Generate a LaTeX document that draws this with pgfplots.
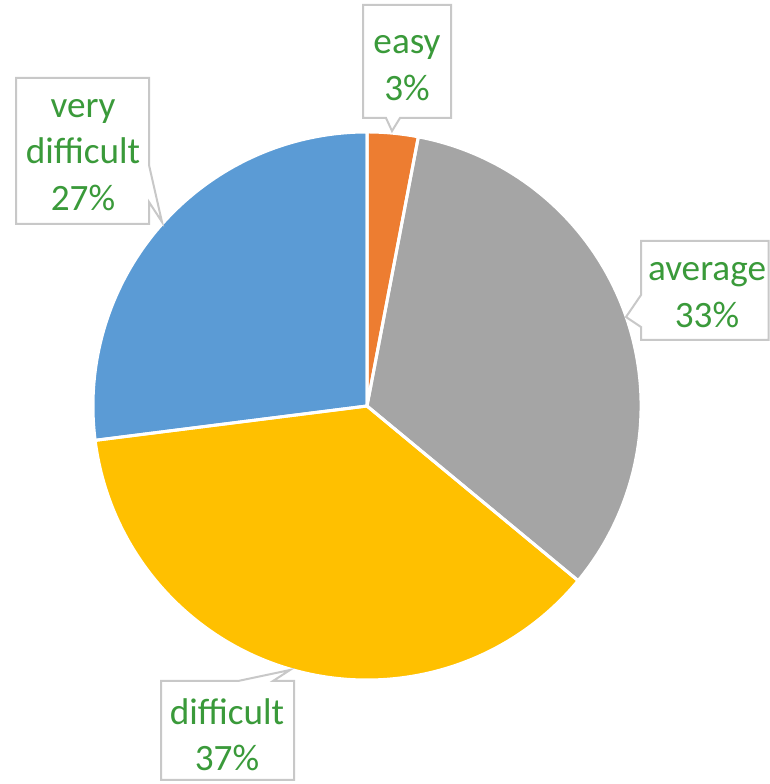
\documentclass[border=0pt]{standalone}
\usepackage{pgfplots}
\usepackage{pgfplotstable}
\pgfplotsset{compat=1.18}
\usepackage{fontspec}
\setmainfont{Carlito}
\definecolor{cEasy}{RGB}{237,125,49}
\definecolor{cAvg}{RGB}{165,165,165}
\definecolor{cDiff}{RGB}{255,192,0}
\definecolor{cVery}{RGB}{91,155,213}
\definecolor{lblgreen}{RGB}{58,154,58}
\definecolor{boxgray}{RGB}{200,200,200}

\pgfplotstableread{
label value
easy 3
average 33
difficult 37
verydifficult 27
}\pietable

\begin{document}
\begin{tikzpicture}
\pgfplotstablegetelem{0}{value}\of\pietable \let\vA\pgfplotsretval
\pgfplotstablegetelem{1}{value}\of\pietable \let\vB\pgfplotsretval
\pgfplotstablegetelem{2}{value}\of\pietable \let\vC\pgfplotsretval
\pgfplotstablegetelem{3}{value}\of\pietable \let\vD\pgfplotsretval
\pgfmathsetmacro\aA{90}
\pgfmathsetmacro\aB{\aA-3.6*\vA}
\pgfmathsetmacro\aC{\aB-3.6*\vB}
\pgfmathsetmacro\aD{\aC-3.6*\vC}
\pgfmathsetmacro\aE{\aD-3.6*\vD}
\def\R{137bp}
\begin{axis}[
  hide axis, scale only axis, clip=false,
  x=0.5bp, y=0.5bp,
  xmin=0, xmax=769, ymin=-784, ymax=0,
]
\path (axis cs:0,-784) rectangle (axis cs:769,0);
% pie wedges
\fill[cEasy] (axis cs:367,-406) -- ++(\aA:\R) arc[start angle=\aA, end angle=\aB, radius=\R] -- cycle;
\fill[cAvg]  (axis cs:367,-406) -- ++(\aB:\R) arc[start angle=\aB, end angle=\aC, radius=\R] -- cycle;
\fill[cDiff] (axis cs:367,-406) -- ++(\aC:\R) arc[start angle=\aC, end angle=\aD, radius=\R] -- cycle;
\fill[cVery] (axis cs:367,-406) -- ++(\aD:\R) arc[start angle=\aD, end angle=\aE, radius=\R] -- cycle;
% white separators
\draw[white, line width=1.5bp, line join=round] (axis cs:367,-406) -- ++(\aA:\R) arc[start angle=\aA, end angle=\aB, radius=\R] -- cycle;
\draw[white, line width=1.5bp, line join=round] (axis cs:367,-406) -- ++(\aB:\R) arc[start angle=\aB, end angle=\aC, radius=\R] -- cycle;
\draw[white, line width=1.5bp, line join=round] (axis cs:367,-406) -- ++(\aC:\R) arc[start angle=\aC, end angle=\aD, radius=\R] -- cycle;
\draw[white, line width=1.5bp, line join=round] (axis cs:367,-406) -- ++(\aD:\R) arc[start angle=\aD, end angle=\aE, radius=\R] -- cycle;
% callout boxes
\filldraw[fill=white, draw=boxgray, line width=1bp]
  (axis cs:363,-5) -- (axis cs:451,-5) -- (axis cs:451,-118) -- (axis cs:400,-118)
  -- (axis cs:392,-131) -- (axis cs:386,-118) -- (axis cs:363,-118) -- cycle;
\filldraw[fill=white, draw=boxgray, line width=1bp]
  (axis cs:16,-78) -- (axis cs:149,-78) -- (axis cs:149,-165) -- (axis cs:162,-222)
  -- (axis cs:149,-202) -- (axis cs:149,-224) -- (axis cs:16,-224) -- cycle;
\filldraw[fill=white, draw=boxgray, line width=1bp]
  (axis cs:641,-241) -- (axis cs:768.5,-241) -- (axis cs:768.5,-340) -- (axis cs:641,-340)
  -- (axis cs:641,-327) -- (axis cs:626,-317) -- (axis cs:641,-295) -- cycle;
\filldraw[fill=white, draw=boxgray, line width=1bp]
  (axis cs:161,-681) -- (axis cs:238,-681) -- (axis cs:290,-670) -- (axis cs:273,-681)
  -- (axis cs:294,-681) -- (axis cs:294,-780) -- (axis cs:161,-780) -- cycle;
% labels
\tikzset{lbl/.style={text=lblgreen, align=center, inner sep=0pt,
  font=\fontsize{18.6bp}{23.2bp}\selectfont}}
\node[lbl] at (axis cs:407,-68) {easy\\3\%};
\node[lbl] at (axis cs:83,-155) {very\\difficult\\27\%};
\node[lbl] at (axis cs:707,-295) {average\\33\%};
\node[lbl] at (axis cs:227,-735) {difficult\\37\%};
\end{axis}
\end{tikzpicture}
\end{document}
